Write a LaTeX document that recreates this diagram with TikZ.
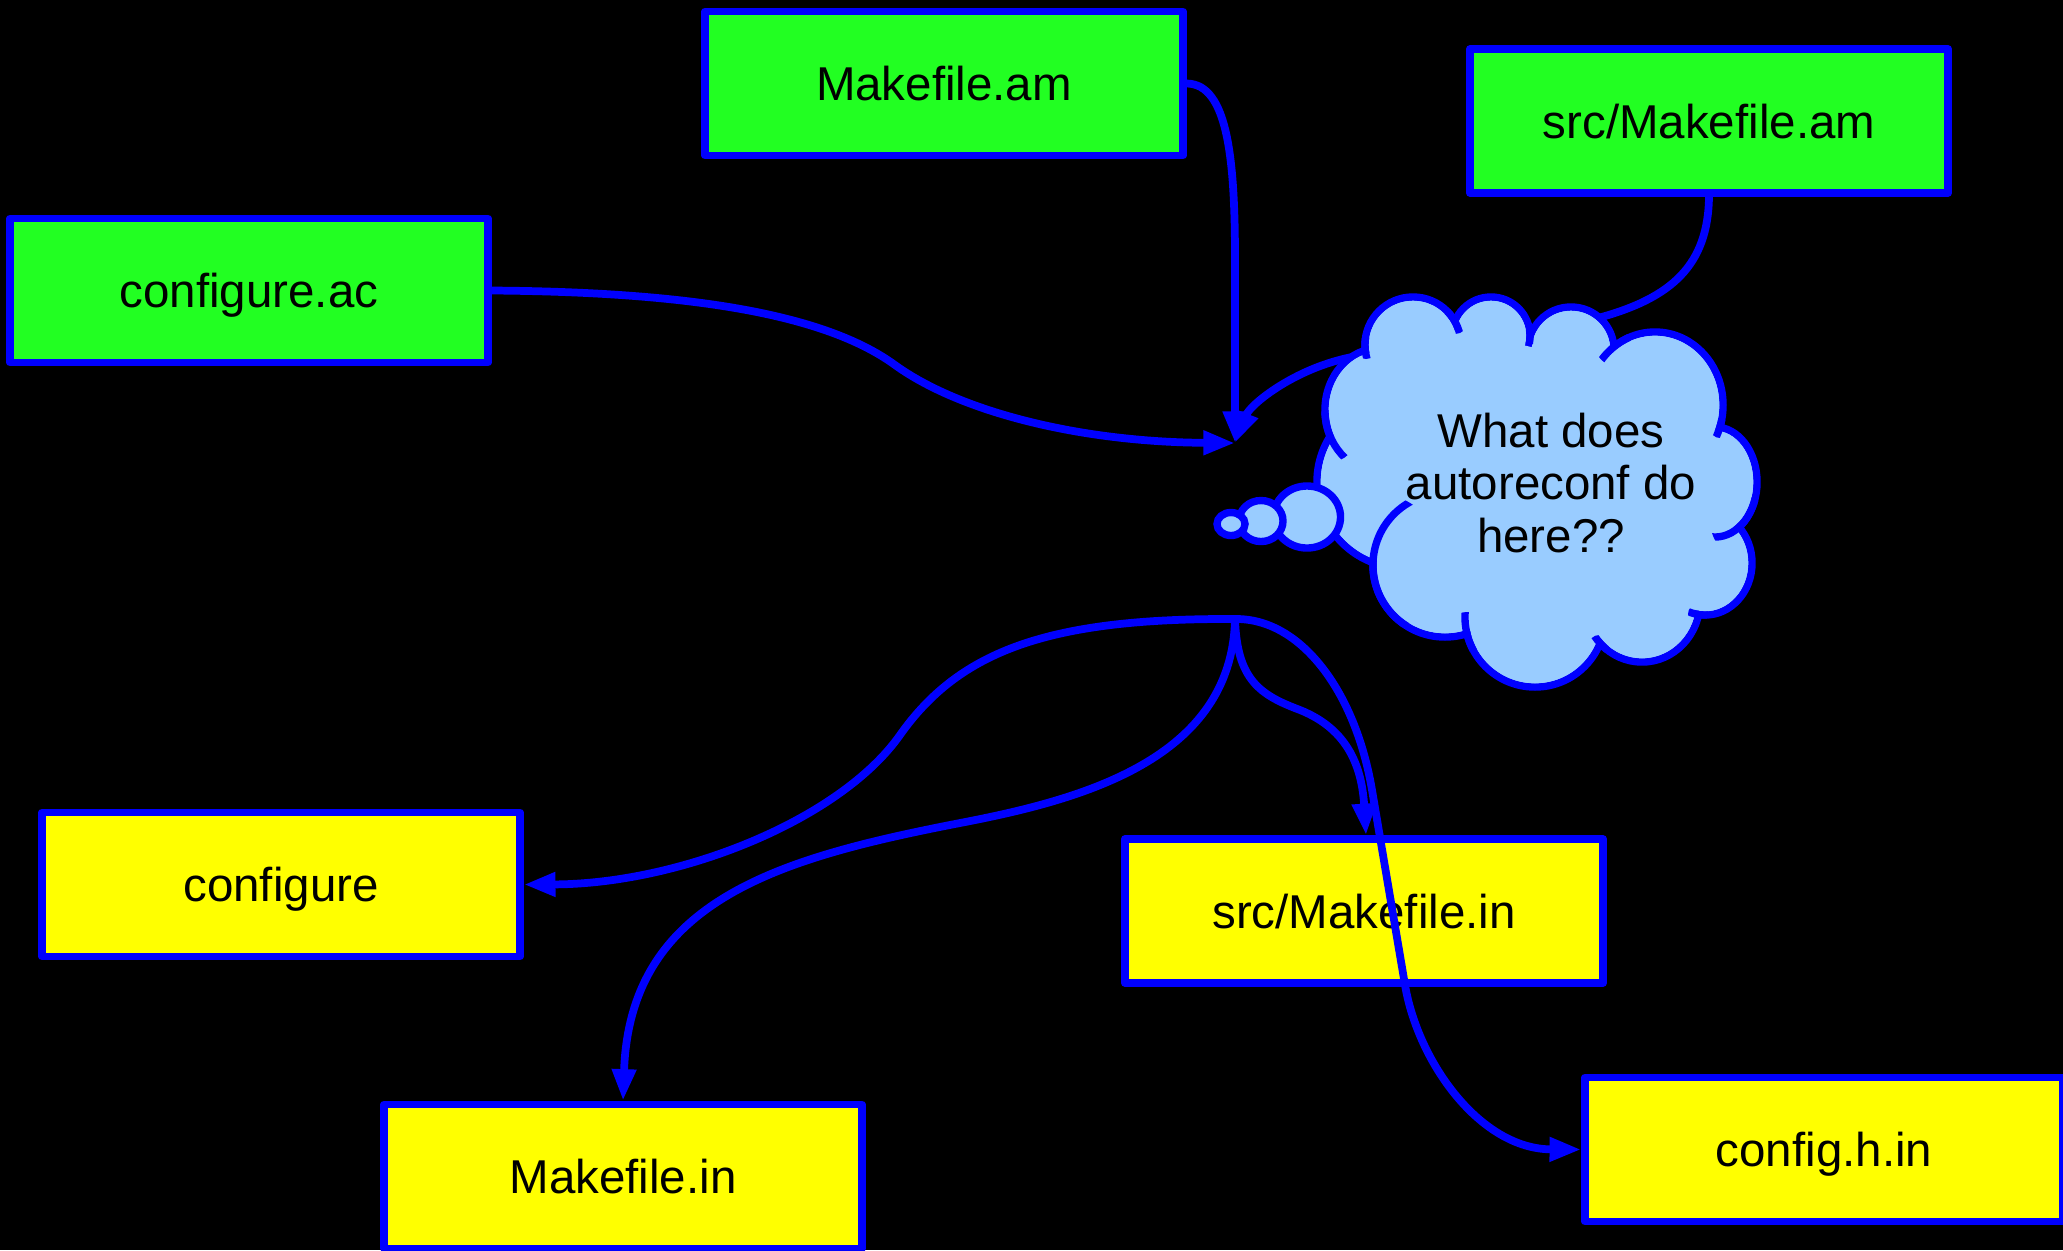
\documentclass[tikz,border=0pt]{standalone}
\usepackage{fontspec}
\setmainfont{Liberation Sans}
\usetikzlibrary{arrows.meta}
\definecolor{edgeblue}{HTML}{0000FF}
\definecolor{srcgreen}{HTML}{22FF22}
\definecolor{genyellow}{HTML}{FFFF00}
\definecolor{cloudfill}{HTML}{99CCFF}
\newcommand\diagfont{\fontsize{13.5pt}{15pt}\selectfont}

\begin{document}
\begin{tikzpicture}[x=0.01cm,y=-0.01cm,
  filebox/.style={draw=edgeblue, line width=2.1pt, line join=round,
    minimum width=4.78cm, minimum height=1.44cm, inner sep=0pt,
    text height=9.7pt, text depth=0pt, font=\diagfont, text=black},
  inputbox/.style={filebox, fill=srcgreen},
  outputbox/.style={filebox, fill=genyellow},
  connector/.style={draw=edgeblue, line width=2.2pt},
  arrowed/.style={connector, -{Triangle[length=9pt,width=6.5pt]}},
  cloudline/.style={draw=edgeblue, line width=2.1pt},
]
\useasboundingbox (0,0) rectangle (2063,1250);
\fill[black] (0,0) rectangle (2063,1250);

% input files
\node[inputbox] (mkam)  at (944,83.5)    {Makefile.am};
\node[inputbox] (srcam) at (1709,121)    {src/Makefile.am};
\node[inputbox] (cac)   at (249,290.5)   {configure.ac};
% generated files
\node[outputbox] (conf)  at (281,884.5)    {configure};
\node[outputbox] (srcin) at (1364,911)     {src/Makefile.in};
\node[outputbox] (mkin)  at (623,1176.5)   {Makefile.in};
\node[outputbox] (cfgh)  at (1824,1149.5)  {config.h.in};

\coordinate (merge) at (1235,443);
\coordinate (split) at (1235,619);

% inputs converging
\draw[arrowed] (mkam.east) .. controls (1228,84) and (1235,160) .. (1235,260) -- (merge);
\draw[arrowed] (cac.east) .. controls (691,292) and (825,314) .. (895,365)
  .. controls (960,412) and (1080,442) .. (merge);
\draw[arrowed] (srcam.south) .. controls (1708,265) and (1672,298) .. (1598,318)
  .. controls (1536,341) and (1400,345) .. (1343,359)
  .. controls (1290,372) and (1250,405) .. (merge);

% outputs fanning out
\draw[arrowed] (split) .. controls (1050,618) and (960,650) .. (900,735)
  .. controls (840,820) and (680,884) .. (conf.east);
\draw[arrowed] (split) .. controls (1232,760) and (1080,800) .. (960,823)
  .. controls (780,858) and (630,900) .. (mkin.north);
\draw[arrowed] (split) .. controls (1237,680) and (1260,695) .. (1300,710)
  .. controls (1350,730) and (1362,770) .. ([xshift=0.02cm]srcin.north);
\draw[arrowed] (split) .. controls (1300,618) and (1355,690) .. (1372,790)
  -- (1405,985) .. controls (1418,1062) and (1480,1149) .. (cfgh.west);

% thought cloud: outlined puffs, then the inside filled again
\def\bumplist{1413/345/48/48, 1491/336/39/39, 1571/350/43/43, 1655/405/68/73,
  1715/482/42/55, 1705/563/47/52, 1642/601/58/61, 1535/617/70/70,
  1445/565/72/72, 1403/482/86/86, 1380/410/55/62}
\foreach \cx/\cy/\rx/\ry in \bumplist {
  \pgfmathsetmacro\bumpx{\rx/100}\pgfmathsetmacro\bumpy{\ry/100}
  \path[cloudline, fill=cloudfill] (\cx,\cy) circle [x radius=\bumpx cm, y radius=\bumpy cm];
}
\fill[cloudfill] (1374,354) -- (1460,330) -- (1531,347) -- (1609,356) -- (1710,431)
  -- (1731,523) -- (1690,608) -- (1596,636) -- (1471,623) -- (1383,559) -- (1340,438) -- cycle;
\foreach \cx/\cy/\rx/\ry in \bumplist {
  \pgfmathsetmacro\bumpx{(\rx-3.8)/100}\pgfmathsetmacro\bumpy{(\ry-3.8)/100}
  \fill[cloudfill] (\cx,\cy) circle [x radius=\bumpx cm, y radius=\bumpy cm];
}
% short arc ends reaching into the cloud
\foreach \cx/\cy/\rx/\ry/\nx/\ny/\len in {
  1413/345/48/48/1366/348/11, 1413/345/48/48/1455/321/13,
  1491/336/39/39/1530/337/8, 1655/405/68/73/1614/347/18,
  1655/405/68/73/1720/428/10, 1715/482/42/55/1741/525/30,
  1705/563/47/52/1698/614/10, 1642/601/58/61/1599/645/10,
  1535/617/70/70/1467/632/20, 1445/565/72/72/1374/563/70,
  1380/410/55/62/1330/436/26} {
  \pgfmathsetmacro\bumpx{\rx/100}\pgfmathsetmacro\bumpy{\ry/100}
  \pgfmathsetmacro\clipr{\len/100}
  \begin{scope}
    \clip (\nx,\ny) circle [radius=\clipr cm];
    \draw[cloudline] (\cx,\cy) circle [x radius=\bumpx cm, y radius=\bumpy cm];
  \end{scope}
}
% trailing bubbles
\draw[cloudline, fill=cloudfill] (1307,517) circle [x radius=0.335cm, y radius=0.31cm];
\draw[cloudline, fill=cloudfill] (1261,521) circle [x radius=0.22cm, y radius=0.205cm];
\draw[cloudline, fill=cloudfill] (1231,524) circle [x radius=0.14cm, y radius=0.115cm];

\node[font=\diagfont, align=center, text=black, inner sep=0pt] (question)
  at (1551,483) {What does\\autoreconf do\\here??};
\end{tikzpicture}
\end{document}
